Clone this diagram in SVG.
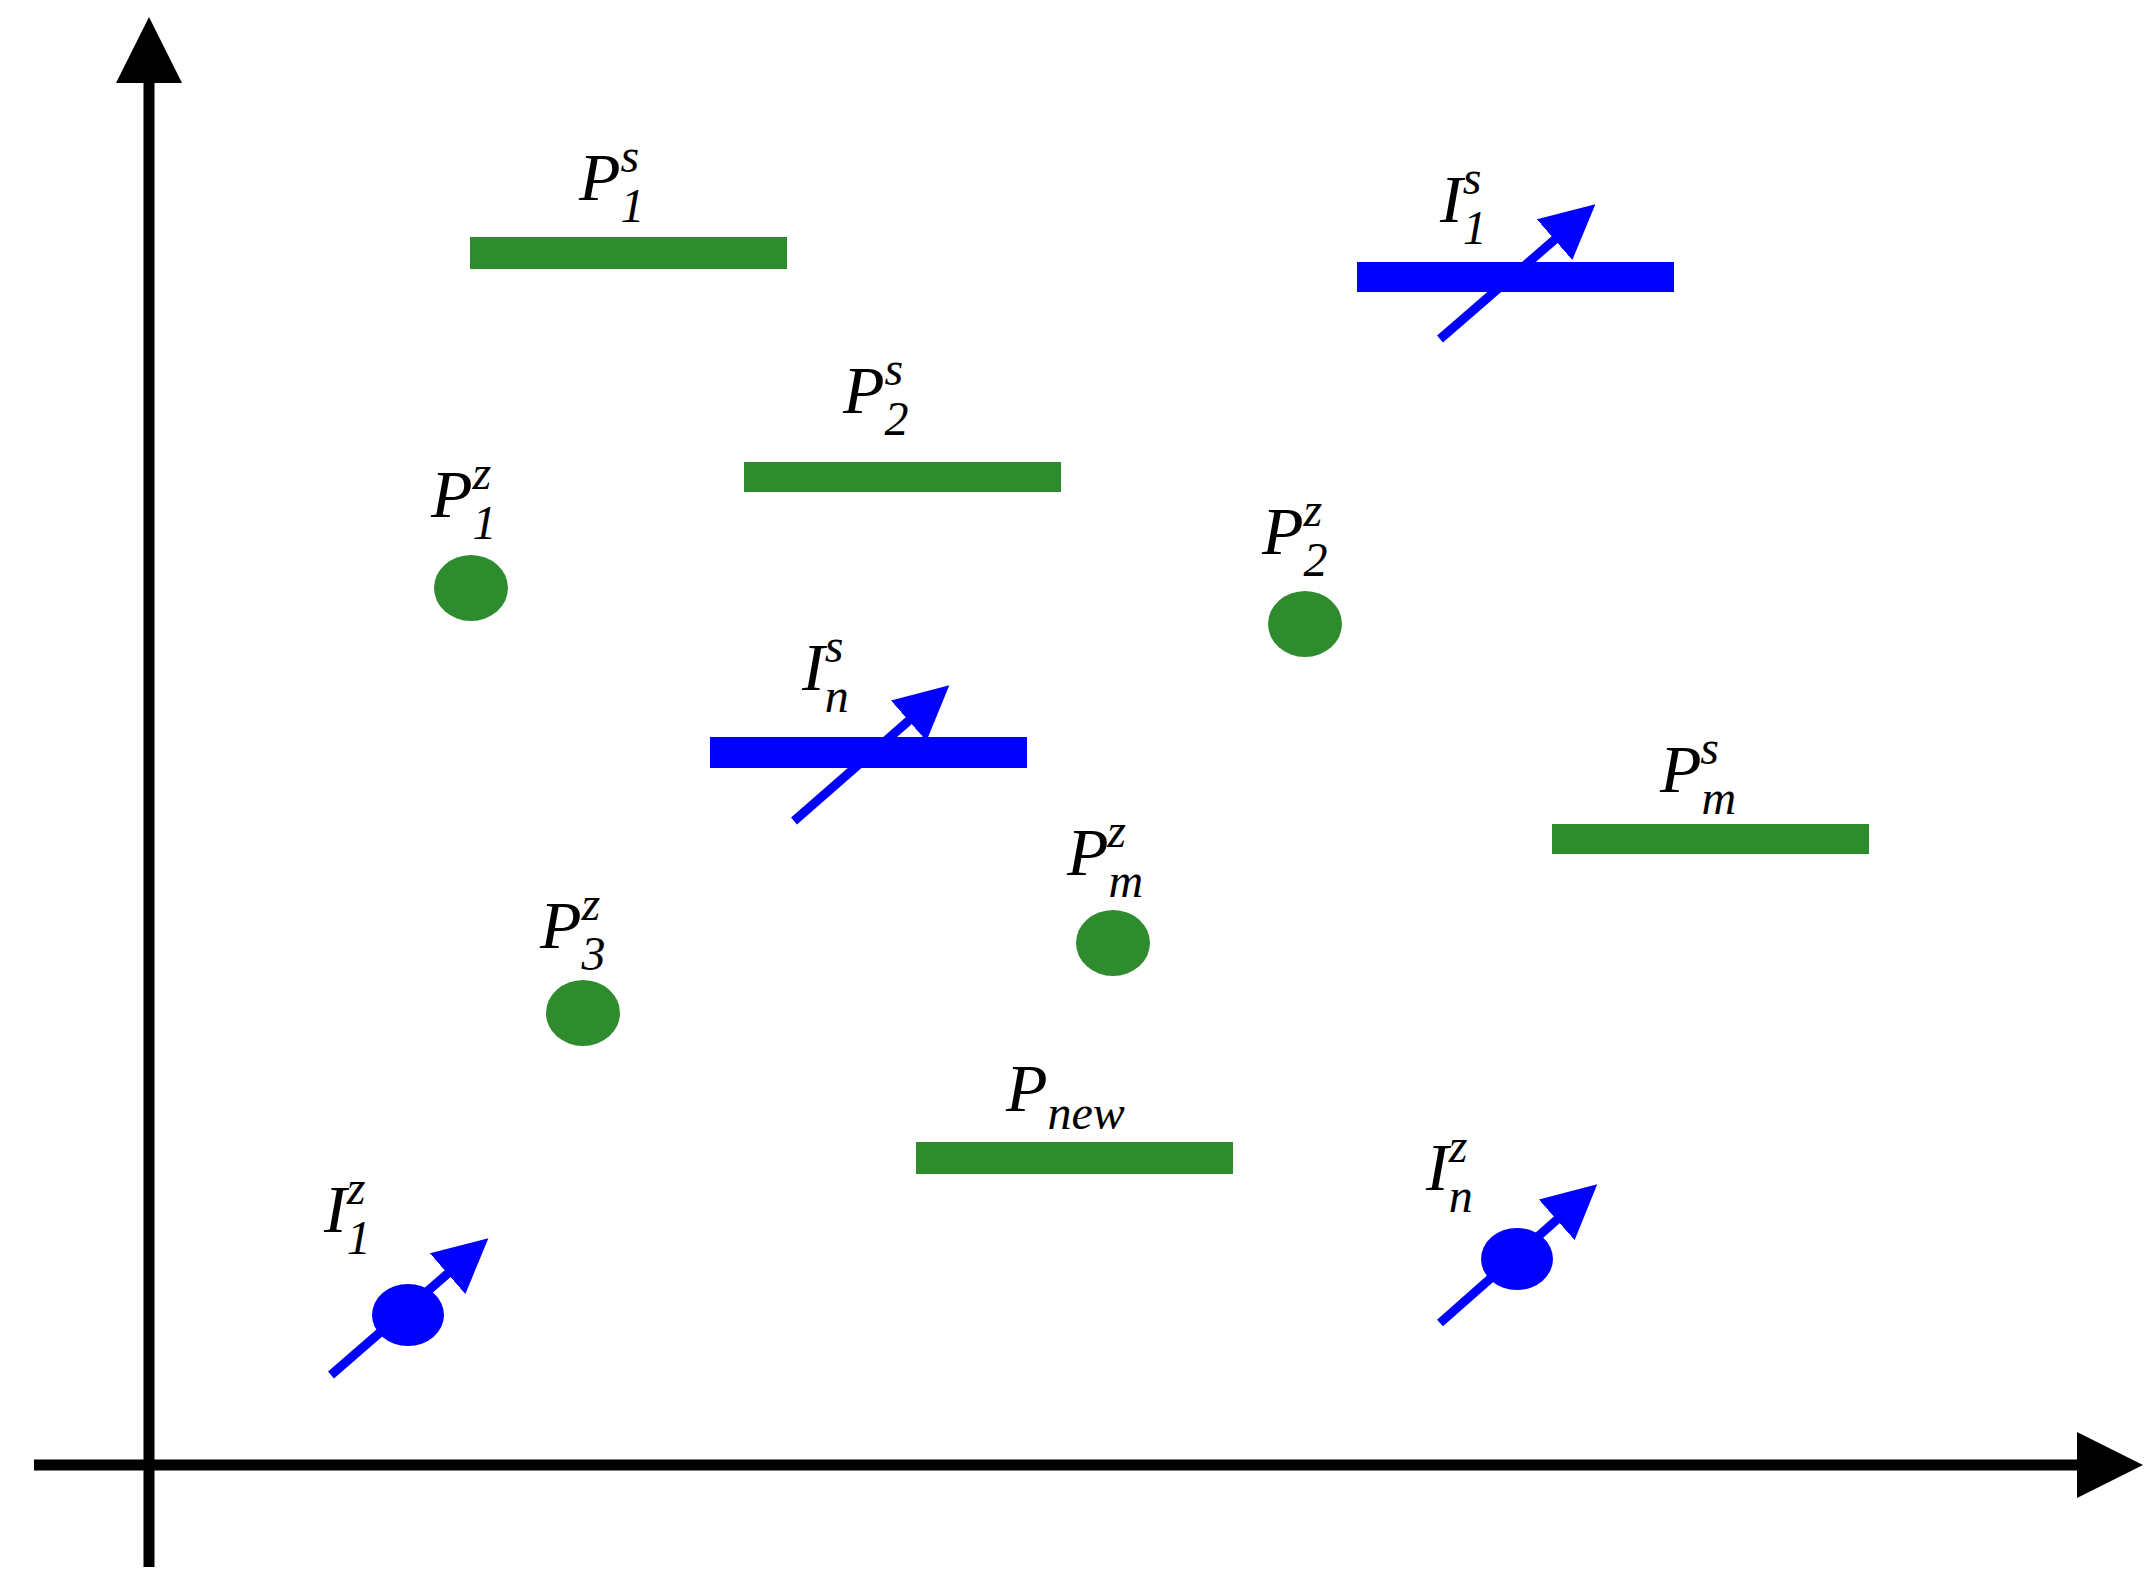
<svg xmlns="http://www.w3.org/2000/svg" width="2150" height="1590" viewBox="0 0 2150 1590">
<style>
.g{fill:#2e8b2e}.b{fill:#0000ff}
.ax{stroke:#000;stroke-width:11;fill:none}
.ar{stroke:#0000ff;stroke-width:9;fill:none}
text{font-family:"Liberation Serif",serif;font-style:italic;font-size:68px;fill:#000}
.s{font-size:48px}
</style>
<defs>
<marker id="ak" markerWidth="6" markerHeight="6" refX="3" refY="3" orient="auto" markerUnits="strokeWidth"><path d="M0,0L6,3L0,6z" fill="#000"/></marker>
<marker id="ab" markerWidth="6" markerHeight="6" refX="3" refY="3" orient="auto" markerUnits="strokeWidth"><path d="M0,0L6,3L0,6z" fill="#0000ff"/></marker>
</defs>
<g id="axes">
<path class="ax" d="M149,1567V50" marker-end="url(#ak)"/>
<path class="ax" d="M34,1465H2110" marker-end="url(#ak)"/>
</g>
<g id="P1s"><rect class="g" x="470" y="237" width="317" height="32"/><text x="579" y="200">P<tspan class="s" dy="22">1</tspan><tspan class="s" dx="-24" dy="-50">s</tspan></text></g>
<g id="P2s"><rect class="g" x="744" y="462" width="317" height="30"/><text x="843" y="413">P<tspan class="s" dy="22">2</tspan><tspan class="s" dx="-24" dy="-50">s</tspan></text></g>
<g id="Pms"><rect class="g" x="1552" y="824" width="317" height="30"/><text x="1660" y="792">P<tspan class="s" dy="22">m</tspan><tspan class="s" dx="-36" dy="-50">s</tspan></text></g>
<g id="Pnew"><rect class="g" x="916" y="1142" width="317" height="32"/><text x="1006" y="1111">P<tspan class="s" dy="18">new</tspan></text></g>
<g id="P1z"><ellipse class="g" cx="471" cy="588" rx="37" ry="33"/><text x="431" y="517">P<tspan class="s" dy="22">1</tspan><tspan class="s" dx="-24" dy="-50">z</tspan></text></g>
<g id="P2z"><ellipse class="g" cx="1305" cy="624" rx="37" ry="33"/><text x="1262" y="554">P<tspan class="s" dy="22">2</tspan><tspan class="s" dx="-24" dy="-50">z</tspan></text></g>
<g id="P3z"><ellipse class="g" cx="583" cy="1013" rx="37" ry="33"/><text x="540" y="948">P<tspan class="s" dy="22">3</tspan><tspan class="s" dx="-24" dy="-50">z</tspan></text></g>
<g id="Pmz"><ellipse class="g" cx="1113" cy="943" rx="37" ry="33"/><text x="1067" y="875">P<tspan class="s" dy="22">m</tspan><tspan class="s" dx="-36" dy="-50">z</tspan></text></g>
<g id="I1s"><rect class="b" x="1357" y="262" width="317" height="30"/><path class="ar" d="M1440,339L1575,222" marker-end="url(#ab)"/><text x="1440" y="222">I<tspan class="s" dy="22">1</tspan><tspan class="s" dx="-24" dy="-50">s</tspan></text></g>
<g id="Ins"><rect class="b" x="710" y="737" width="317" height="31"/><path class="ar" d="M794,821L929,703" marker-end="url(#ab)"/><text x="802" y="690">I<tspan class="s" dy="22">n</tspan><tspan class="s" dx="-24" dy="-50">s</tspan></text></g>
<g id="I1z"><ellipse class="b" cx="408" cy="1315" rx="36" ry="31"/><path class="ar" d="M331,1375L468,1256" marker-end="url(#ab)"/><text x="324" y="1232">I<tspan class="s" dy="22">1</tspan><tspan class="s" dx="-24" dy="-50">z</tspan></text></g>
<g id="Inz"><ellipse class="b" cx="1517" cy="1259" rx="36" ry="31"/><path class="ar" d="M1440,1323L1577,1202" marker-end="url(#ab)"/><text x="1426" y="1190">I<tspan class="s" dy="22">n</tspan><tspan class="s" dx="-24" dy="-50">z</tspan></text></g>
</svg>
